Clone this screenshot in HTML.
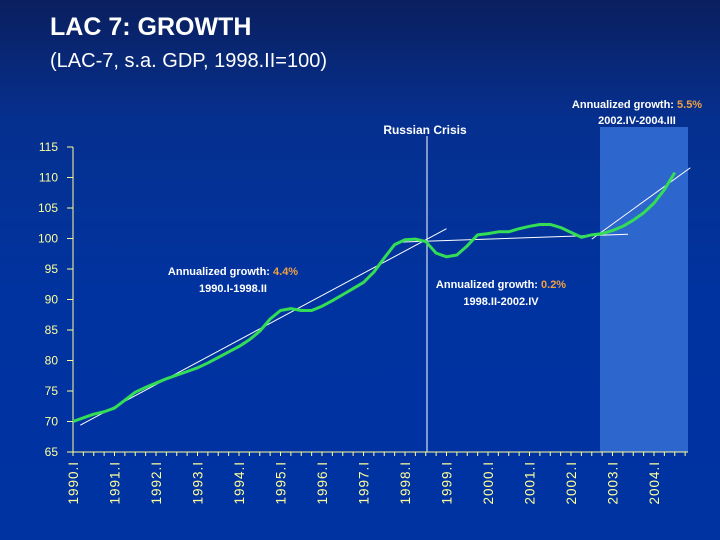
<!DOCTYPE html>
<html><head><meta charset="utf-8"><style>
body{margin:0;width:720px;height:540px;overflow:hidden;font-family:"Liberation Sans",sans-serif;}
#bg{position:absolute;left:0;top:0;width:720px;height:540px;background:linear-gradient(#0a1f5e 0px,#06308f 120px,#0033a0 300px,#0033a2 540px);}
</style></head><body>
<div id="bg"></div>
<svg width="720" height="540" style="position:absolute;left:0;top:0">
<text x="50" y="35" fill="#fff" font-size="25" font-weight="bold">LAC 7: GROWTH</text>
<text x="50" y="67" fill="#fff" font-size="20">(LAC-7, s.a. GDP, 1998.II=100)</text>
<rect x="600" y="127" width="88" height="325" fill="#2d66cc"/>
<line x1="427" y1="136" x2="427" y2="452" stroke="#fff" stroke-width="1"/>
<text x="425" y="134" fill="#fff" font-size="12" font-weight="bold" text-anchor="middle">Russian Crisis</text>
<g id="axes"></g>
<g id="marks"></g>
<text x="233" y="275" fill="#fff" font-size="11" font-weight="bold" text-anchor="middle">Annualized growth: <tspan fill="#f0a040">4.4%</tspan></text>
<text x="233" y="292" fill="#fff" font-size="11" font-weight="bold" text-anchor="middle">1990.I-1998.II</text>
<text x="501" y="288" fill="#fff" font-size="11" font-weight="bold" text-anchor="middle">Annualized growth: <tspan fill="#f0a040">0.2%</tspan></text>
<text x="501" y="305" fill="#fff" font-size="11" font-weight="bold" text-anchor="middle">1998.II-2002.IV</text>
<text x="637" y="108" fill="#fff" font-size="11" font-weight="bold" text-anchor="middle">Annualized growth: <tspan fill="#f0a040">5.5%</tspan></text>
<text x="637" y="124" fill="#fff" font-size="11" font-weight="bold" text-anchor="middle">2002.IV-2004.III</text>
</svg>
<script>
const yTicks=[65,70,75,80,85,90,95,100,105,110,115];
const years=["1990.I","1991.I","1992.I","1993.I","1994.I","1995.I","1996.I","1997.I","1998.I","1999.I","2000.I","2001.I","2002.I","2003.I","2004.I"];
const gdp=[70,70.6,71.2,71.6,72.2,73.5,74.8,75.6,76.3,77.0,77.6,78.2,78.8,79.6,80.5,81.4,82.3,83.4,84.8,86.8,88.2,88.5,88.2,88.2,88.9,89.8,90.8,91.8,92.8,94.5,96.8,99.0,99.8,99.9,99.5,97.6,97.0,97.3,98.8,100.6,100.8,101.1,101.1,101.6,102.0,102.3,102.3,101.8,101.0,100.2,100.6,100.8,101.3,102.0,103.0,104.2,105.8,108.0,110.8];
const trendStart=[0.7,31.5,50];
const trendStartVal=[69.4,99.4,99.9];
const trendEnd=[36,53.5,59.5];
const trendEndVal=[101.6,100.7,111.6];
const NS="http://www.w3.org/2000/svg";
const X=q=>73+q*10.375, Y=v=>452-(v-65)*6.1;
const axes=document.getElementById('axes'), marks=document.getElementById('marks');
function mk(p,tag,at){const e=document.createElementNS(NS,tag);for(const k in at)e.setAttribute(k,at[k]);p.appendChild(e);return e;}
const ax=mk(axes,'path',{d:`M73,147V452H688`,stroke:'#ffff99','stroke-width':1,fill:'none'});


yTicks.forEach(v=>{
  mk(axes,'line',{x1:67,x2:73,y1:Y(v),y2:Y(v),stroke:'#ffff99'});
  const t=mk(axes,'text',{x:58,y:Y(v)+4,fill:'#ffff99','font-size':12,'text-anchor':'end'});
  t.textContent=v;
  
  
});
for(let q=0;q<=59;q++){mk(axes,'line',{x1:X(q),x2:X(q),y1:452,y2:456,stroke:'#ffff99'});}
years.forEach((s,i)=>{
  const x=X(i*4)+5;
  const t=mk(axes,'text',{x:x,y:461,fill:'#ffff99','font-size':13.5,'letter-spacing':'1','text-anchor':'end',transform:`rotate(-90 ${x} 461)`});
  t.textContent=s;
  
  
});
trendStart.forEach((s,i)=>{
  const l=mk(marks,'line',{x1:X(s),y1:Y(trendStartVal[i]),x2:X(trendEnd[i]),y2:Y(trendEndVal[i]),stroke:'#fff','stroke-width':1});
  
  
});
const p=mk(marks,'polyline',{points:gdp.map((v,i)=>X(i)+','+Y(v)).join(' '),fill:'none',stroke:'#33dd55','stroke-width':3,'stroke-linejoin':'round'});


</script>
</body></html>
